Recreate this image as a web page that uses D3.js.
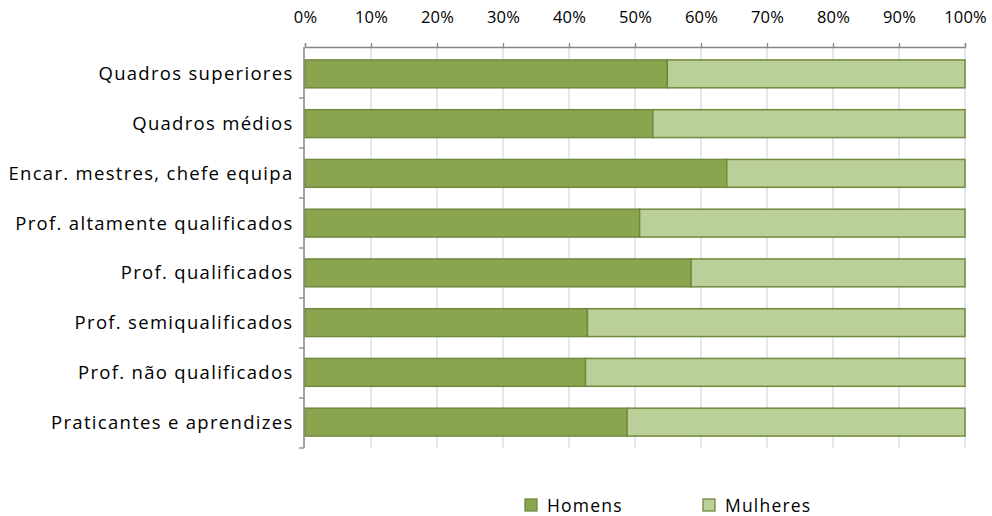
<!DOCTYPE html>
<html>
<head>
<meta charset="utf-8">
<script src="https://cdn.jsdelivr.net/npm/d3@7"></script>
<style>
  html, body { margin: 0; padding: 0; background: #ffffff; }
  svg { display: block; }
  text { font-family: "Open Sans", Lato, sans-serif; fill: #000; }
</style>
</head>
<body>
<svg id="chart" width="992" height="516"></svg>
<script>
// Occupational categories (top to bottom)
const categories = [
  "Quadros superiores",
  "Quadros médios",
  "Encar. mestres, chefe equipa",
  "Prof. altamente qualificados",
  "Prof. qualificados",
  "Prof. semiqualificados",
  "Prof. não qualificados",
  "Praticantes e aprendizes"
];
// Share of men (%) in each category; women make up the rest
const homens = [54.9, 52.7, 63.9, 50.7, 58.5, 42.8, 42.5, 48.8];
const mulheres = homens.map(v => 100 - v);
const seriesNames = ["Homens", "Mulheres"];
const tickValues = [0, 10, 20, 30, 40, 50, 60, 70, 80, 90, 100];

const colors = { Homens: "#8AA54E", Mulheres: "#BBCF99" };
const stroke = "#71893F";

const svg = d3.select("#chart");
const plotLeft = 305, plotRight = 965, plotTop = 48, plotBottom = 448;

const x = d3.scaleLinear().domain([0, 100]).range([plotLeft, plotRight]);
const y = d3.scaleBand().domain(categories).range([plotTop, plotBottom]).paddingInner(0.44).paddingOuter(0.24);

// vertical gridlines
svg.append("g").selectAll("line").data(tickValues.slice(1)).join("line")
  .attr("x1", d => x(d)).attr("x2", d => x(d))
  .attr("y1", plotTop).attr("y2", plotBottom)
  .attr("stroke", "#D3DAE9").attr("stroke-width", 1.3);

// stacked bars
const rows = categories.map((c, i) => ({ cat: c, Homens: homens[i], Mulheres: mulheres[i] }));
const stack = d3.stack().keys(seriesNames)(rows);
svg.append("g").selectAll("g").data(stack).join("g")
  .attr("fill", d => colors[d.key])
  .selectAll("rect").data(d => d).join("rect")
  .attr("x", d => x(d[0]))
  .attr("y", d => y(d.data.cat))
  .attr("width", d => x(d[1]) - x(d[0]))
  .attr("height", y.bandwidth())
  .attr("stroke", stroke).attr("stroke-width", 1.5);

// top value axis
const xAxis = d3.axisTop(x).tickValues(tickValues).tickFormat(d => d + "%").tickSize(4).tickPadding(20);
const gx = svg.append("g").attr("transform", `translate(0,${plotTop - 1})`).call(xAxis);
gx.select(".domain").attr("stroke", "#868686").attr("stroke-width", 1.3);
gx.selectAll(".tick line").attr("stroke", "#868686").attr("stroke-width", 1.3);
gx.selectAll(".tick text")
  .attr("font-size", 16.5).attr("font-family", "'Open Sans', sans-serif")
  .attr("letter-spacing", "0.2px").attr("fill", "#000");

// left category axis
const yTicks = d3.range(categories.length + 1).map(i => plotTop + i * (plotBottom - plotTop) / categories.length);
const gy = svg.append("g");
gy.append("line").attr("x1", plotLeft - 1).attr("x2", plotLeft - 1).attr("y1", plotTop - 1).attr("y2", plotBottom)
  .attr("stroke", "#868686").attr("stroke-width", 1.5);
gy.selectAll("line.t").data(yTicks.slice(1)).join("line").attr("class", "t")
  .attr("x1", plotLeft - 6).attr("x2", plotLeft - 1).attr("y1", d => d).attr("y2", d => d)
  .attr("stroke", "#868686").attr("stroke-width", 1.3);
gy.selectAll("text").data(categories).join("text")
  .attr("x", plotLeft - 11.5)
  .attr("y", d => y(d) + y.bandwidth() / 2)
  .attr("dy", "0.35em")
  .attr("text-anchor", "end")
  .attr("font-size", 18.5)
  .attr("letter-spacing", "1.3px")
  .text(d => d);

// legend
const legendPos = [{ name: "Homens", x: 525 }, { name: "Mulheres", x: 703 }];
const lg = svg.append("g").selectAll("g").data(legendPos).join("g")
  .attr("transform", d => `translate(${d.x},499)`);
lg.append("rect").attr("width", 12).attr("height", 12)
  .attr("fill", d => colors[d.name]).attr("stroke", stroke).attr("stroke-width", 1.3);
lg.append("text").attr("x", 22).attr("y", 7).attr("dy", "0.35em")
  .attr("font-size", 17.5).attr("letter-spacing", "1.2px").text(d => d.name);
</script>
</body>
</html>
